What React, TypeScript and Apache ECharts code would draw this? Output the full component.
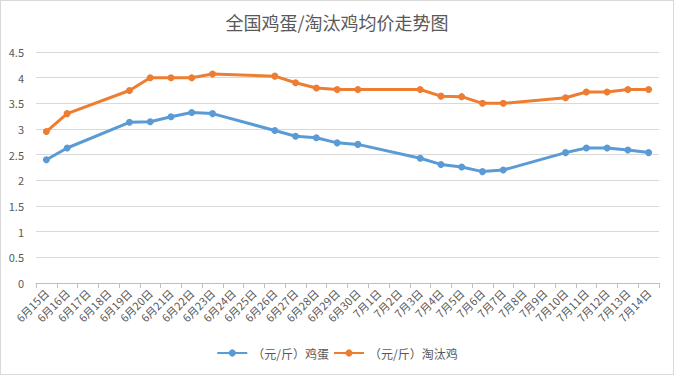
import React, { useEffect, useRef } from "react";
import * as echarts from "echarts";

const categories: string[] = [
  "6月15日", "6月16日", "6月17日", "6月18日", "6月19日", "6月20日", "6月21日", "6月22日",
  "6月23日", "6月24日", "6月25日", "6月26日", "6月27日", "6月28日", "6月29日", "6月30日",
  "7月1日", "7月2日", "7月3日", "7月4日", "7月5日", "7月6日", "7月7日", "7月8日",
  "7月9日", "7月10日", "7月11日", "7月12日", "7月13日", "7月14日",
];

const eggPrices: (number | null)[] = [
  2.40, 2.63, null, null, 3.13, 3.14, 3.24, 3.32,
  3.30, null, null, 2.97, 2.86, 2.83, 2.73, 2.70,
  null, null, 2.43, 2.31, 2.26, 2.17, 2.20, null,
  null, 2.54, 2.63, 2.63, 2.59, 2.54,
];

const henPrices: (number | null)[] = [
  2.95, 3.30, null, null, 3.75, 4.00, 4.00, 4.00,
  4.07, null, null, 4.03, 3.90, 3.80, 3.77, 3.77,
  null, null, 3.77, 3.64, 3.63, 3.50, 3.50, null,
  null, 3.61, 3.72, 3.72, 3.77, 3.77,
];

const seriesNames = ["（元/斤）鸡蛋", "（元/斤）淘汰鸡"];
const colors = ["#5B9BD5", "#ED7D31"];
const titleText = "全国鸡蛋/淘汰鸡均价走势图";

const FONT = "'Noto Sans CJK SC', 'Microsoft YaHei', sans-serif";

export default function App() {
  const ref = useRef<HTMLDivElement>(null);
  useEffect(() => {
    document.body.style.margin = "0";
    if (!ref.current) return;
    const chart = echarts.init(ref.current, undefined, { renderer: "svg" });
    chart.setOption({
      animation: false,
      backgroundColor: "#ffffff",
      title: {
        text: titleText,
        left: "center",
        top: 7,
        textStyle: { fontFamily: FONT, fontSize: 18, fontWeight: "normal", color: "#595959" },
      },
      grid: { left: 35, right: 14, top: 51, bottom: 91 },
      legend: {
        bottom: 10,
        left: "center",
        itemWidth: 30,
        itemHeight: 9,
        itemGap: 4,
        textStyle: { fontFamily: FONT, fontSize: 12, color: "#595959" },
        data: seriesNames,
      },
      xAxis: {
        type: "category",
        data: categories,
        boundaryGap: true,
        axisLine: { lineStyle: { color: "#bfbfbf" } },
        axisTick: { show: true, alignWithLabel: false, lineStyle: { color: "#bfbfbf" }, length: 5 },
        axisLabel: {
          interval: 0,
          rotate: 45,
          fontFamily: FONT,
          fontSize: 11,
          color: "#595959",
          margin: 8,
        },
      },
      yAxis: {
        type: "value",
        min: 0,
        max: 4.5,
        interval: 0.5,
        axisLine: { show: false },
        axisTick: { show: false },
        splitLine: { lineStyle: { color: "#d9d9d9" } },
        axisLabel: { fontFamily: FONT, fontSize: 11, color: "#595959", margin: 12 },
      },
      series: [
        {
          name: seriesNames[0],
          type: "line",
          data: eggPrices,
          connectNulls: true,
          symbol: "circle",
          symbolSize: 7,
          lineStyle: { width: 3, color: colors[0] },
          itemStyle: { color: colors[0] },
        },
        {
          name: seriesNames[1],
          type: "line",
          data: henPrices,
          connectNulls: true,
          symbol: "circle",
          symbolSize: 7,
          lineStyle: { width: 3, color: colors[1] },
          itemStyle: { color: colors[1] },
        },
      ],
    });
    return () => chart.dispose();
  }, []);
  return (
    <div
      ref={ref}
      style={{ width: 674, height: 375, boxSizing: "border-box", border: "1px solid #d9d9d9" }}
    />
  );
}
